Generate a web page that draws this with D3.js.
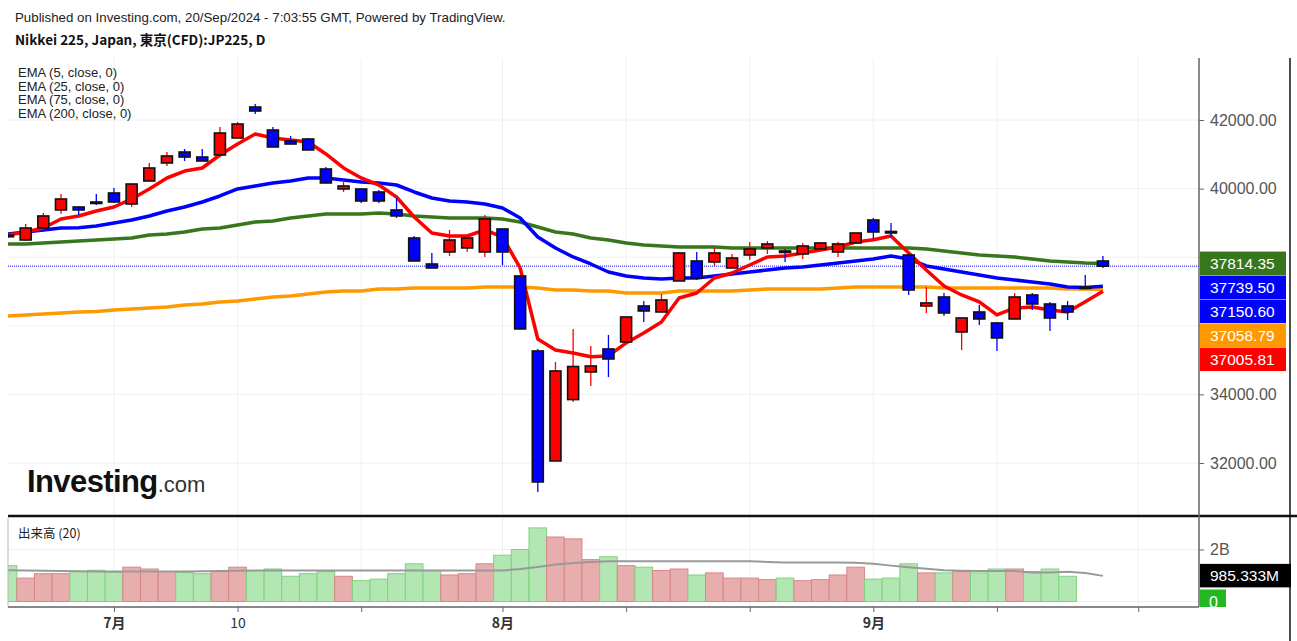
<!DOCTYPE html>
<html>
<head>
<meta charset="utf-8">
<script src="https://cdn.jsdelivr.net/npm/d3@7"></script>
<style>
  body { margin: 0; background: #fff; }
  svg { display: block; }
</style>
</head>
<body>
<div id="chart"></div>
<script>
// trading days shown (Jun 21 .. Sep 20, 2024)
const days = ["06-21","06-24","06-25","06-26","06-27","06-28",
  "07-01","07-02","07-03","07-04","07-05","07-08","07-09","07-10","07-11","07-12",
  "07-16","07-17","07-18","07-19","07-22","07-23","07-24","07-25","07-26","07-29","07-30","07-31",
  "08-01","08-02","08-05","08-06","08-07","08-08","08-09","08-13","08-14","08-15","08-16",
  "08-19","08-20","08-21","08-22","08-23","08-26","08-27","08-28","08-29","08-30",
  "09-02","09-03","09-04","09-05","09-06","09-09","09-10","09-11","09-12","09-13",
  "09-17","09-18","09-19","09-20"];

const openP  = [38640,38502,38852,39377,39464,39610,39872,39551,40222,40747,41067,40921,40980,41475,42379,41708,
  41388,41446,40572,39989,39989,39901,39377,38560,37802,38152,38269,38152,
  38823,37453,35266,32060,33849,34654,35325,35529,36578,36403,37307,
  37890,37861,37686,38065,38269,38182,38094,38240,38152,38415,
  39085,38750,38065,36578,36840,35820,36403,36083,36199,36899,
  36636,36578,37132,37890];
const highP  = [38700,38968,39289,39843,39480,39843,40018,40134,40747,41067,41155,41155,41796,41942,42466,41796,
  41534,41475,40630,40251,39989,39960,39726,38619,38123,38793,38560,39231,
  38823,37453,35325,34946,35908,35412,35733,36257,36724,36928,38152,
  38152,38269,38094,38444,38473,38240,38415,38444,38444,38706,
  39143,38998,38065,37132,36957,36228,36607,36112,36957,36957,
  36695,36724,37482,38036];
const lowP   = [38560,38473,38852,39260,39231,39522,39580,39464,40222,40659,40805,40805,40980,41475,42175,41213,
  41300,41126,40164,39901,39580,39580,39143,37890,37686,38036,38152,38006,
  37773,35908,31156,32060,33780,34246,34508,35529,36112,36403,37307,
  37336,37744,37686,37919,38094,37861,37948,38240,38006,38415,
  38531,38590,36899,36374,36287,35296,36024,35267,36199,36462,
  35850,36170,37132,37686];
const closeP = [38640,38852,39202,39697,39377,39610,39610,40134,40601,40951,40921,40805,41621,41883,42262,41213,
  41300,41126,40164,40076,39639,39639,39202,37890,37686,38502,38560,39114,
  38152,35908,31447,34683,34813,34829,35033,36257,36432,36753,38123,
  37394,38123,37977,38240,38386,38182,38327,38415,38386,38706,
  38735,38750,37044,36666,36374,36228,36199,35646,36840,36636,
  36228,36403,37132,37739.50];

const ema5   = [38650,38735,38852,39114,39202,39347,39464,39697,39989,40309,
  40513,40601,40980,41300,41592,41475,41417,41359,41009,40601,
  40309,40105,39755,39172,38706,38619,38619,38793,38590,37686,
  35616,35296,35208,35100,35121,35500,35791,36112,36811,36957,
  37394,37540,37773,38006,38036,38123,38211,38298,38444,38510,
  38619,38123,37627,37161,36899,36695,36316,36520,36549,36462,
  36403,36700,37005.81];
const ema25  = [38677,38735,38793,38852,38860,38910,38998,39085,39202,39347,
  39464,39610,39785,39989,40076,40164,40222,40309,40309,40251,
  40193,40164,40105,39901,39726,39639,39610,39551,39435,39143,
  38590,38269,38006,37802,37569,37453,37394,37365,37394,37394,
  37453,37511,37569,37627,37686,37715,37773,37831,37890,37948,
  38036,37948,37744,37656,37569,37482,37394,37336,37277,37219,
  37132,37120,37150.60];
const ema75  = [38385,38385,38415,38444,38473,38502,38531,38560,38648,38677,
  38735,38823,38852,38939,39027,39056,39143,39202,39260,39260,
  39260,39289,39260,39202,39172,39143,39143,39143,39114,39027,
  38881,38735,38677,38560,38502,38415,38356,38327,38298,38298,
  38298,38269,38269,38269,38269,38269,38269,38269,38269,38269,
  38269,38269,38240,38181,38123,38065,38036,38006,37948,37890,
  37861,37831,37814.35];
const ema200 = [36287,36316,36345,36374,36403,36420,36462,36491,36520,36549,
  36607,36636,36695,36724,36782,36840,36870,36928,36986,37015,
  37015,37074,37074,37103,37103,37103,37103,37132,37132,37132,
  37103,37044,37044,37015,37015,36957,36957,36957,37015,37015,
  37015,37015,37044,37074,37074,37074,37074,37103,37132,37132,
  37132,37132,37132,37103,37103,37103,37103,37103,37103,37103,
  37074,37074,37058.79];

// volume in billions
const volume = [1.38,0.90,1.07,1.07,1.16,1.20,1.12,1.32,1.25,1.15,
  1.12,1.07,1.15,1.32,1.19,1.25,0.97,1.07,1.15,0.97,
  0.80,0.86,1.07,1.45,1.20,1.02,1.07,1.45,1.78,2.00,
  2.83,2.48,2.41,1.61,1.72,1.38,1.32,1.19,1.25,1.02,
  1.10,0.90,0.90,0.84,0.90,0.80,0.84,1.02,1.32,0.86,
  0.90,1.45,1.10,1.10,1.15,1.10,1.25,1.25,1.15,1.25,
  0.97,0,0];
const volMA = [1.20,1.19,1.18,1.17,1.16,1.15,1.15,1.15,1.15,1.15,
  1.15,1.16,1.17,1.18,1.19,1.19,1.19,1.19,1.19,1.19,
  1.19,1.19,1.19,1.19,1.19,1.19,1.19,1.19,1.19,1.25,
  1.33,1.42,1.48,1.52,1.55,1.55,1.55,1.55,1.55,1.55,
  1.55,1.55,1.55,1.52,1.50,1.50,1.50,1.50,1.49,1.45,
  1.38,1.32,1.26,1.20,1.18,1.17,1.17,1.17,1.12,1.12,
  1.14,1.10,0.985333];

// x ticks (index into days; 64 is the next session after the last one)
const tickIdx    = [6, 13, 20, 28, 35, 42, 49, 56, 64];
const tickLabels = ["7月", "10", "", "8月", "", "", "9月", "", ""];
const priceTicks = [32000, 34000, 36000, 38000, 40000, 42000];
const priceLabels = [32000, 34000, 40000, 42000]; // 36000/38000 sit under the value boxes
const legendLabels = ["EMA (5, close, 0)", "EMA (25, close, 0)", "EMA (75, close, 0)", "EMA (200, close, 0)"];

const W = 1297, H = 641;
const left = 8, right = 1199, mainTop = 58, mainBottom = 515, volTop = 518, volBottom = 607;

const svg = d3.select("#chart").append("svg")
    .attr("width", W).attr("height", H)
    .style("font-family", "'Liberation Sans', Arial, sans-serif");

const x = d3.scaleLinear().domain([0, 67.44]).range([left, right]);
const y = d3.scaleLinear().domain([32000, 42000]).range([463, 120]);
const yv = d3.scaleLinear().domain([0, 2]).range([601.5, 549.5]);
const step = x(1) - x(0);

const defs = svg.append("defs");
defs.append("clipPath").attr("id", "clipMain").append("rect")
    .attr("x", left).attr("y", mainTop).attr("width", right - left).attr("height", mainBottom - mainTop);
defs.append("clipPath").attr("id", "clipVol").append("rect")
    .attr("x", left).attr("y", volTop).attr("width", right - left).attr("height", volBottom - volTop);

// header
svg.append("text").attr("x", 15).attr("y", 22).attr("font-size", 13.3).attr("fill", "#222")
    .text("Published on Investing.com, 20/Sep/2024 - 7:03:55 GMT, Powered by TradingView.");
svg.append("text").attr("x", 15).attr("y", 45).attr("font-size", 13.5).attr("font-weight", "bold")
    .attr("fill", "#111").style("font-family", "'Noto Sans CJK JP', 'Noto Sans', sans-serif")
    .text("Nikkei 225, Japan, 東京(CFD):JP225, D");

// grid
const grid = svg.append("g");
grid.selectAll(".vg").data(tickIdx).enter().append("line")
    .attr("x1", d => x(d)).attr("x2", d => x(d))
    .attr("y1", mainTop).attr("y2", mainBottom)
    .attr("stroke", "#f0f0f0");
grid.selectAll(".vg2").data(tickIdx).enter().append("line")
    .attr("x1", d => x(d)).attr("x2", d => x(d))
    .attr("y1", volTop).attr("y2", volBottom)
    .attr("stroke", "#f0f0f0");
grid.selectAll(".hg").data(priceTicks).enter().append("line")
    .attr("x1", left).attr("x2", right)
    .attr("y1", d => y(d)).attr("y2", d => y(d))
    .attr("stroke", "#f0f0f0");
grid.selectAll(".hgv").data([0, 2]).enter().append("line")
    .attr("x1", left).attr("x2", right)
    .attr("y1", d => yv(d)).attr("y2", d => yv(d))
    .attr("stroke", "#f0f0f0");

// legend
svg.append("g").selectAll("text").data(legendLabels).enter().append("text")
    .attr("x", 18).attr("y", (d, i) => 77 + i * 13.7)
    .attr("font-size", 13).attr("fill", "#222")
    .text(d => d);

// logo
const logo = svg.append("text").attr("x", 27).attr("y", 492).attr("fill", "#111");
logo.append("tspan").attr("font-size", 31).attr("font-weight", "bold").attr("letter-spacing", -0.6).text("Investing");
logo.append("tspan").attr("font-size", 22).attr("fill", "#333").text(".com");

// main plot
const plot = svg.append("g").attr("clip-path", "url(#clipMain)");

// last price dotted line
plot.append("line")
    .attr("x1", left).attr("x2", right)
    .attr("y1", y(closeP[closeP.length - 1])).attr("y2", y(closeP[closeP.length - 1]))
    .attr("stroke", "#0000ff").attr("stroke-width", 1).attr("stroke-dasharray", "1,1");

const emaSeries = [
    {vals: ema200, color: "#ff9900"},
    {vals: ema75, color: "#38761d"},
    {vals: ema25, color: "#0000ff"},
    {vals: ema5, color: "#ff0000"}
];
const line = d3.line().x((d, i) => x(i)).y(d => y(d));
plot.selectAll(".ema").data(emaSeries).enter().append("path")
    .attr("d", d => line(d.vals))
    .attr("fill", "none")
    .attr("stroke", d => d.color)
    .attr("stroke-width", 3.5)
    .attr("stroke-linejoin", "round");

// candles
const candles = days.map((d, i) => ({i: i, o: openP[i], h: highP[i], l: lowP[i], c: closeP[i]}));
const bw = 11;
const cg = plot.selectAll(".candle").data(candles).enter().append("g");
cg.append("line")
    .attr("x1", d => x(d.i)).attr("x2", d => x(d.i))
    .attr("y1", d => y(d.h)).attr("y2", d => y(d.l))
    .attr("stroke", d => d.c > d.o ? "#ff0000" : "#0000ff")
    .attr("stroke-width", 1.3);
cg.append("rect")
    .attr("x", d => x(d.i) - bw / 2)
    .attr("width", bw)
    .attr("y", d => y(Math.max(d.o, d.c)))
    .attr("height", d => Math.max(y(Math.min(d.o, d.c)) - y(Math.max(d.o, d.c)), 1.5))
    .attr("fill", d => d.c > d.o ? "#ff0000" : (d.c < d.o ? "#0000ff" : "#111"))
    .attr("stroke", "#111")
    .attr("stroke-width", 1.6);

// volume panel
const vplot = svg.append("g").attr("clip-path", "url(#clipVol)");
vplot.selectAll(".vbar").data(volume).enter().append("rect")
    .attr("x", (d, i) => x(i) - step / 2)
    .attr("width", step)
    .attr("y", d => yv(d))
    .attr("height", d => yv(0) - yv(d))
    .attr("fill", (d, i) => closeP[i] > openP[i] ? "#e8aeae" : "#b2e6b2")
    .attr("stroke", (d, i) => closeP[i] > openP[i] ? "#d98585" : "#7fd37f")
    .attr("stroke-width", 1);
vplot.append("path")
    .attr("d", d3.line().x((d, i) => x(i)).y(d => yv(d))(volMA))
    .attr("fill", "none").attr("stroke", "#999").attr("stroke-width", 2);

svg.append("text").attr("x", 18).attr("y", 538).attr("font-size", 12.5).attr("fill", "#222")
    .style("font-family", "'Noto Sans CJK JP', sans-serif")
    .text("出来高 (20)");

// panel separators and borders
svg.append("line").attr("x1", left).attr("x2", W).attr("y1", 516).attr("y2", 516)
    .attr("stroke", "#111").attr("stroke-width", 2.5);
svg.append("line").attr("x1", left).attr("x2", left).attr("y1", volTop).attr("y2", volBottom)
    .attr("stroke", "#bbb");
svg.append("line").attr("x1", right).attr("x2", right).attr("y1", mainTop).attr("y2", volBottom)
    .attr("stroke", "#666").attr("stroke-width", 1.5);
svg.append("line").attr("x1", 1290).attr("x2", 1290).attr("y1", mainTop).attr("y2", H)
    .attr("stroke", "#111").attr("stroke-width", 1.5);

// x axis
const xAxis = svg.append("g").attr("transform", "translate(0," + volBottom + ")")
    .call(d3.axisBottom(x).tickValues(tickIdx).tickFormat((d, i) => tickLabels[i]).tickSize(5).tickSizeOuter(0));
xAxis.select(".domain").attr("stroke", "#888").attr("stroke-width", 2).attr("d", "M" + left + ",0H" + right);
xAxis.selectAll(".tick line").attr("stroke", "#666");
xAxis.selectAll(".tick text")
    .attr("font-size", 14).attr("fill", "#333").attr("dy", "0.95em")
    .style("font-family", "'Noto Sans CJK JP', 'Liberation Sans', sans-serif")
    .attr("font-weight", (d, i) => tickLabels[i].indexOf("月") >= 0 ? "bold" : "normal");

// price axis: tick marks at every level, labels only where visible
const yAxis = svg.append("g").attr("transform", "translate(" + right + ",0)")
    .call(d3.axisRight(y).tickValues(priceTicks)
        .tickFormat(d => priceLabels.indexOf(d) >= 0 ? d3.format(".2f")(d) : "")
        .tickSize(5).tickPadding(6));
yAxis.select(".domain").remove();
yAxis.selectAll(".tick line").attr("stroke", "#666");
yAxis.selectAll(".tick text").attr("font-size", 16).attr("fill", "#555")
    .style("font-family", "'Liberation Sans', Arial, sans-serif");

const vAxis = svg.append("g").attr("transform", "translate(" + right + ",0)")
    .call(d3.axisRight(yv).tickValues([2]).tickFormat(d => d + "B").tickSize(5).tickPadding(6));
vAxis.select(".domain").remove();
vAxis.selectAll(".tick line").attr("stroke", "#666");
vAxis.selectAll(".tick text").attr("font-size", 16).attr("fill", "#555")
    .style("font-family", "'Liberation Sans', Arial, sans-serif");

// last value boxes, stacked so they do not overlap
const last = closeP.length - 1;
const boxes = [
    {v: ema75[last], color: "#38761d"},
    {v: closeP[last], color: "#0000ff"},
    {v: ema25[last], color: "#0000ff"},
    {v: ema200[last], color: "#ff9900"},
    {v: ema5[last], color: "#ff0000"}
].sort((a, b) => b.v - a.v);
let prevY = -Infinity;
boxes.forEach(b => {
    b.y = Math.max(y(b.v), prevY + 24);
    prevY = b.y;
});
const bg = svg.append("g").selectAll("g").data(boxes).enter().append("g");
bg.append("rect").attr("x", right + 1).attr("width", 86).attr("y", d => d.y - 12).attr("height", 23.5)
    .attr("fill", d => d.color);
bg.append("text").attr("x", right + 11).attr("y", d => d.y + 5.5).attr("font-size", 15.5).attr("fill", "#fff")
    .text(d => d3.format(".2f")(d.v));

// volume value boxes
defs.append("clipPath").attr("id", "clipVolAxis").append("rect")
    .attr("x", right).attr("y", volTop).attr("width", 100).attr("height", volBottom - volTop);
const vb = svg.append("g").attr("clip-path", "url(#clipVolAxis)");
const maY = Math.min(yv(volMA[last]), yv(volume[last]) - 24);
vb.append("rect").attr("x", right + 1).attr("y", maY - 12).attr("width", 91).attr("height", 23.5).attr("fill", "#000");
vb.append("text").attr("x", right + 11).attr("y", maY + 5.5).attr("font-size", 15.5).attr("fill", "#fff")
    .text(d3.format(".3f")(volMA[last] * 1000) + "M");
const zY = Math.max(yv(volume[last]), maY + 24);
vb.append("rect").attr("x", right + 1).attr("y", zY - 12).attr("width", 26).attr("height", 24).attr("fill", "#22b822");
vb.append("text").attr("x", right + 10).attr("y", zY + 6).attr("font-size", 16).attr("fill", "#fff")
    .text(volume[last]);
</script>
</body>
</html>
